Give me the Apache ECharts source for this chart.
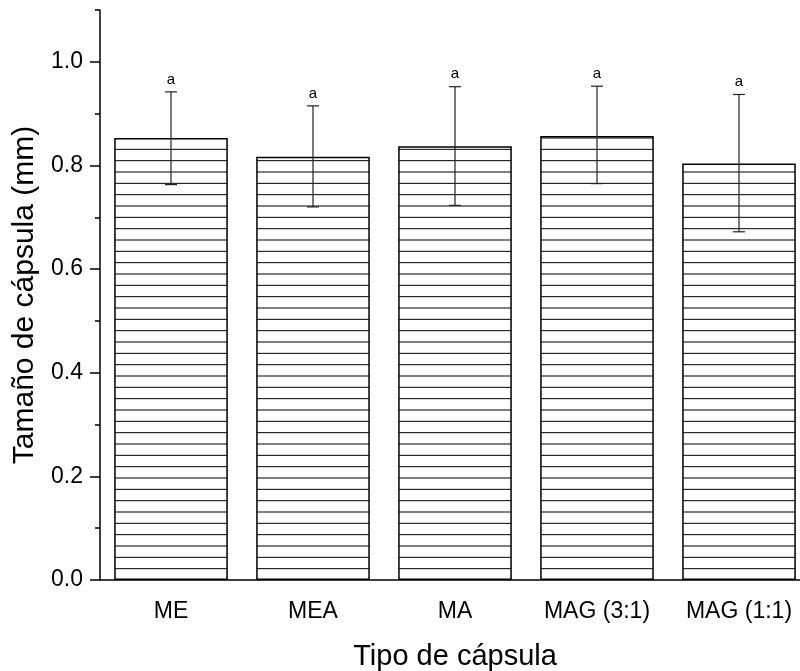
<!DOCTYPE html>
<html>
<head>
<meta charset="utf-8">
<script src="https://cdn.jsdelivr.net/npm/echarts@6/dist/echarts.min.js"></script>
<style>html,body{margin:0;padding:0;background:#fff;overflow:hidden;}#c{width:800px;height:671px;}</style>
</head>
<body>
<div id="c"></div>
<script>
// Data
const categories = ['ME', 'MEA', 'MA', 'MAG (3:1)', 'MAG (1:1)'];
const means = [0.853, 0.817, 0.837, 0.857, 0.804];
const errLow = [0.763, 0.720, 0.723, 0.765, 0.672];
const errHigh = [0.942, 0.915, 0.952, 0.953, 0.937];
const groupLetters = ['a', 'a', 'a', 'a', 'a'];
const yMajorTicks = [0, 0.2, 0.4, 0.6, 0.8, 1.0];
const yMinorTicks = [0.1, 0.3, 0.5, 0.7, 0.9, 1.1];

// Horizontal hatch pattern tile
const tile = document.createElement('canvas');
tile.width = 8; tile.height = 34;
const tctx = tile.getContext('2d');
tctx.fillStyle = '#fff';
tctx.fillRect(0, 0, 8, 34);
tctx.fillStyle = '#000';
[2, 2 + 34 / 3, 2 + 68 / 3].forEach(y => tctx.fillRect(0, y - 0.5, 8, 1));

const FONT = '"Liberation Sans", Arial, sans-serif';
const chart = echarts.init(document.getElementById('c'));

const errData = categories.map((c, i) => [i, errLow[i], errHigh[i], groupLetters[i]]);

chart.setOption({
  animation: false,
  backgroundColor: '#fff',
  grid: { left: 100, top: 10, width: 710, bottom: 91, outerBoundsMode: 'none', containLabel: false },
  xAxis: [
    {
      type: 'category', data: categories, boundaryGap: true,
      name: 'Tipo de cápsula', nameLocation: 'middle', nameGap: 62,
      nameTextStyle: { fontSize: 29, fontFamily: FONT, color: '#000' },
      axisLine: { lineStyle: { color: '#000', width: 1.5 } },
      axisTick: { alignWithLabel: true, length: 10, lineStyle: { color: '#000', width: 1.5 } },
      axisLabel: { fontSize: 23, fontFamily: FONT, color: '#000', margin: 20 },
      splitLine: { show: false }
    },
    {
      type: 'category', data: categories, boundaryGap: true, position: 'bottom',
      axisLine: { show: false },
      axisTick: { length: 5, lineStyle: { color: '#000', width: 1.5 } },
      axisLabel: { show: false },
      splitLine: { show: false }
    }
  ],
  yAxis: [
    {
      type: 'value', min: 0, max: 1.1,
      name: 'Tamaño de cápsula (mm)', nameLocation: 'middle', nameGap: 56,
      nameTextStyle: { fontSize: 30, fontFamily: FONT, color: '#000' },
      axisLine: { show: true, lineStyle: { color: '#000', width: 1.5 } },
      axisTick: { show: true, customValues: yMajorTicks, length: 10, lineStyle: { color: '#000', width: 1.5 } },
      axisLabel: { customValues: yMajorTicks, formatter: v => v.toFixed(1), fontSize: 23, fontFamily: FONT, color: '#000', margin: 17 },
      splitLine: { show: false }
    },
    {
      type: 'value', min: 0, max: 1.1, position: 'left',
      axisLine: { show: false },
      axisTick: { show: true, customValues: yMinorTicks, length: 5, lineStyle: { color: '#000', width: 1.5 } },
      axisLabel: { show: false },
      splitLine: { show: false }
    }
  ],
  series: [
    {
      type: 'bar', data: means, barWidth: '80%',
      xAxisIndex: 0, yAxisIndex: 0,
      itemStyle: { color: { image: tile, repeat: 'repeat' }, borderColor: '#000', borderWidth: 1.5 }
    },
    {
      type: 'custom', xAxisIndex: 0, yAxisIndex: 0, data: errData, z: 10,
      renderItem: function (params, api) {
        const x = api.coord([api.value(0), 0])[0];
        const yl = api.coord([api.value(0), api.value(1)])[1];
        const yh = api.coord([api.value(0), api.value(2)])[1];
        const hw = 6;
        const ls = { stroke: '#222', lineWidth: 1.2 };
        return {
          type: 'group',
          children: [
            { type: 'line', shape: { x1: x, y1: yl, x2: x, y2: yh }, style: ls },
            { type: 'line', shape: { x1: x - hw, y1: yh, x2: x + hw, y2: yh }, style: ls },
            { type: 'line', shape: { x1: x - hw, y1: yl, x2: x + hw, y2: yl }, style: ls },
            { type: 'text', style: { text: groupLetters[params.dataIndex], x: x, y: yh - 5, textAlign: 'center', textVerticalAlign: 'bottom', fontSize: 15, fontFamily: FONT, fill: '#000' } }
          ]
        };
      }
    }
  ]
});
</script>
</body>
</html>
